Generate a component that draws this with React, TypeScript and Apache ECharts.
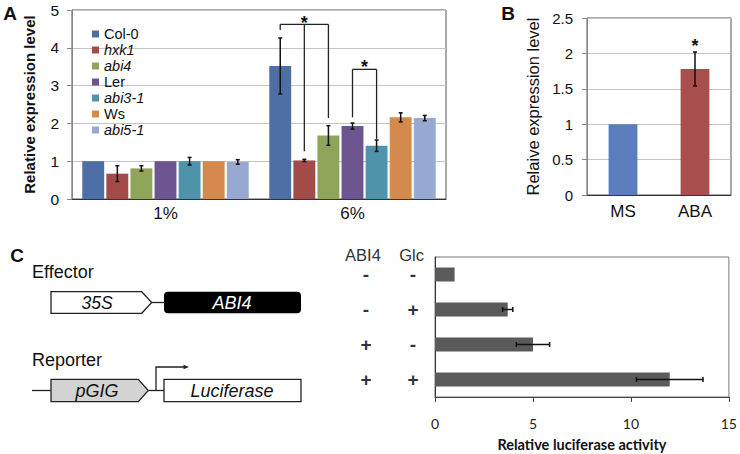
import React, { useEffect, useRef } from "react";
import * as echarts from "echarts";

// ---- Panel A data ----
const strains = ["Col-0", "hxk1", "abi4", "Ler", "abi3-1", "Ws", "abi5-1"];
const italicStrains = ["hxk1", "abi4", "abi3-1", "abi5-1"];
const glucoseLevels = ["1%", "6%"];
const meansLow = [1.0, 0.67, 0.81, 1.0, 1.0, 1.0, 0.98];
const errLow = [0, 0.21, 0.07, 0, 0.1, 0, 0.06];
const meansHigh = [3.52, 1.02, 1.68, 1.93, 1.41, 2.16, 2.14];
const errHigh = [0.74, 0.03, 0.26, 0.08, 0.15, 0.12, 0.07];
const strainColors = ["#4e6ea6", "#a34b48", "#8ea55a", "#6d568f", "#4f93aa", "#d48a4c", "#97a9d1"];
// significance brackets: category index, bracket top, star level, legs [strain index, leg end]
const bracketCats = [1, 1];
const bracketTops = [4.62, 3.43];
const bracketStars = [4.78, 3.62];
const bracketLegs = [
  [[0, 4.47], [1, 1.26], [2, 2.14]],
  [[3, 2.16], [4, 1.59]],
];

// ---- Panel B data ----
const treatments = ["MS", "ABA"];
const treatMeans = [1.0, 1.78];
const treatErr = [0, 0.24];
const treatColors = ["#5a7dbb", "#a84f4d"];
const treatStar = [null, 2.17];

// ---- Panel C data ----
const abi4Signs = ["-", "-", "+", "+"];
const glcSigns = ["-", "+", "-", "+"];
const lucMeans = [1.0, 3.71, 5.0, 11.98];
const lucErr = [0, 0.26, 0.85, 1.7];
const lucTicks = [0, 15, 5];

const BAR_GAP = 0.1;
const CAT_GAP = 0.11;

function barCenter(api: any, cat: number, si: number) {
  const band = api.size([1, 0])[0];
  const n = strains.length;
  const avail = band * (1 - CAT_GAP);
  const bw = avail / (n + (n - 1) * BAR_GAP);
  return api.coord([cat, 0])[0] - avail / 2 + si * bw * (1 + BAR_GAP) + bw / 2;
}

const errorDataA: number[][] = [];
strains.forEach((_, i) => {
  if (errLow[i] > 0) errorDataA.push([0, i, meansLow[i] - errLow[i], meansLow[i] + errLow[i]]);
  if (errHigh[i] > 0) errorDataA.push([1, i, meansHigh[i] - errHigh[i], meansHigh[i] + errHigh[i]]);
});

const ERR_STYLE = { stroke: "#111", lineWidth: 1.5 };

function vErr(x: number, y1: number, y2: number, cap: number) {
  return [
    { type: "line", shape: { x1: x, y1, x2: x, y2 }, style: ERR_STYLE },
    { type: "line", shape: { x1: x - cap, y1, x2: x + cap, y2: y1 }, style: ERR_STYLE },
    { type: "line", shape: { x1: x - cap, y1: y2, x2: x + cap, y2 }, style: ERR_STYLE },
  ];
}

function starText(x: number, y: number) {
  return {
    type: "text",
    x,
    y: y + 5,
    style: {
      text: "*",
      fontSize: 18,
      fontWeight: "bold",
      fontFamily: "Liberation Sans",
      fill: "#111",
      align: "center",
      verticalAlign: "middle",
    },
  };
}

const DIAG = { stroke: "#222", lineWidth: 1.3 };
const diagText = (text: string, x: number, y: number, extra: any = {}) => ({
  type: "text",
  x,
  y,
  style: {
    text,
    fontSize: 18,
    fontFamily: "Liberation Sans",
    fill: "#111",
    align: "center",
    verticalAlign: "middle",
    ...extra,
  },
});

export default function App() {
  const ref = useRef<HTMLDivElement>(null);
  useEffect(() => {
    const chart = echarts.init(ref.current as HTMLDivElement, null, { renderer: "svg" });
    const option: any = {
      animation: false,
      backgroundColor: "#fff",
      textStyle: { fontFamily: "Liberation Sans" },
      grid: [
        { left: 72, top: 10, width: 374, height: 189, show: true, borderColor: "#555", borderWidth: 1 },
        { left: 587, top: 18, width: 144, height: 177, show: true, borderColor: "#555", borderWidth: 1 },
        { left: 435, top: 257, width: 296, height: 140, show: true, borderColor: "#777", borderWidth: 1 },
      ],
      legend: {
        data: strains,
        orient: "vertical",
        left: 87,
        top: 21,
        itemWidth: 7,
        itemHeight: 7,
        itemGap: 0,
        icon: "rect",
        formatter: (name: string) => (italicStrains.includes(name) ? `{i|${name}}` : name),
        textStyle: {
          fontSize: 14.5,
          lineHeight: 16,
          color: "#111",
          fontFamily: "Liberation Sans",
          rich: { i: { fontStyle: "italic", fontSize: 14.5, lineHeight: 16, color: "#111", fontFamily: "Liberation Sans" } },
        },
      },
      xAxis: [
        {
          gridIndex: 0,
          type: "category",
          data: glucoseLevels,
          axisTick: { show: false },
          axisLine: { lineStyle: { color: "#333", width: 1 } },
          axisLabel: { fontSize: 17, color: "#111", margin: 6 },
        },
        {
          gridIndex: 1,
          type: "category",
          data: treatments,
          axisTick: { show: false },
          axisLine: { lineStyle: { color: "#333", width: 1 } },
          axisLabel: { fontSize: 17, color: "#111", margin: 8 },
        },
        {
          gridIndex: 2,
          type: "value",
          min: lucTicks[0],
          max: lucTicks[1],
          interval: lucTicks[2],
          axisLine: { show: true, lineStyle: { color: "#444" } },
          axisTick: { show: true, length: 5, lineStyle: { color: "#444" } },
          splitLine: { show: false },
          axisLabel: { margin: 19, fontFamily: "Lato", fontSize: 14, color: "#222" },
          name: "Relative luciferase activity",
          nameLocation: "middle",
          nameGap: 40,
          nameTextStyle: { fontWeight: "bold", fontFamily: "Lato", fontSize: 14.5, color: "#111" },
        },
      ],
      yAxis: [
        {
          gridIndex: 0,
          type: "value",
          min: 0,
          max: 5,
          interval: 1,
          axisLine: { show: true, lineStyle: { color: "#888" } },
          axisTick: { show: true, length: 5, lineStyle: { color: "#888" } },
          splitLine: { lineStyle: { color: "#c4c4c4" } },
          axisLabel: { fontSize: 15.5, color: "#111", margin: 13 },
          name: "Relative expression level",
          nameLocation: "middle",
          nameGap: 35,
          nameTextStyle: { fontSize: 15, fontWeight: "bold", color: "#111" },
        },
        {
          gridIndex: 1,
          type: "value",
          min: 0,
          max: 2.5,
          interval: 0.5,
          axisLine: { show: true, lineStyle: { color: "#888" } },
          axisTick: { show: true, length: 5, lineStyle: { color: "#888" } },
          splitLine: { lineStyle: { color: "#c4c4c4" } },
          axisLabel: { fontSize: 15, color: "#111", margin: 14 },
          name: "Relaive expression level",
          nameLocation: "middle",
          nameGap: 46,
          nameTextStyle: { fontSize: 16.5, color: "#111" },
        },
        {
          gridIndex: 2,
          type: "category",
          inverse: true,
          data: abi4Signs.map((a, i) => a + glcSigns[i]),
          axisLine: { show: true, lineStyle: { color: "#333" } },
          axisTick: { show: false },
          axisLabel: {
            margin: 7,
            formatter: (_v: string, i: number) => `{a|${abi4Signs[i]}}{s| }{b|${glcSigns[i]}}`,
            rich: {
              a: { width: 30, align: "center", fontSize: 19, fontWeight: "bold", color: "#2b3644" },
              s: { width: 17, fontSize: 10 },
              b: { width: 30, align: "center", fontSize: 19, fontWeight: "bold", color: "#2b3644" },
            },
          },
        },
      ],
      series: [
        ...strains.map((s, i) => ({
          name: s,
          type: "bar",
          xAxisIndex: 0,
          yAxisIndex: 0,
          data: [meansLow[i], meansHigh[i]],
          itemStyle: { color: strainColors[i] },
          barGap: `${BAR_GAP * 100}%`,
          barCategoryGap: `${CAT_GAP * 100}%`,
        })),
        {
          type: "custom",
          name: "errA",
          xAxisIndex: 0,
          yAxisIndex: 0,
          data: errorDataA,
          encode: { x: 0, y: [2, 3] },
          z: 5,
          renderItem: (_p: any, api: any) => {
            const cat = api.value(0);
            const si = api.value(1);
            const x = barCenter(api, cat, si);
            const y1 = api.coord([cat, api.value(2)])[1];
            const y2 = api.coord([cat, api.value(3)])[1];
            return { type: "group", children: vErr(x, y1, y2, 2) };
          },
        },
        {
          type: "custom",
          name: "bracketsA",
          xAxisIndex: 0,
          yAxisIndex: 0,
          data: bracketCats.map((c, i) => [c, bracketTops[i]]),
          encode: { x: 0, y: 1 },
          z: 6,
          renderItem: (p: any, api: any) => {
            const k = p.dataIndex;
            const cat = bracketCats[k];
            const legs = bracketLegs[k];
            const yTop = api.coord([cat, bracketTops[k]])[1];
            const xs = legs.map((l) => barCenter(api, cat, l[0]));
            const children: any[] = [
              { type: "line", shape: { x1: Math.min(...xs), y1: yTop, x2: Math.max(...xs), y2: yTop }, style: { stroke: "#222", lineWidth: 1.3 } },
            ];
            legs.forEach((l, j) => {
              const yEnd = api.coord([cat, l[1]])[1];
              children.push({ type: "line", shape: { x1: xs[j], y1: yTop, x2: xs[j], y2: yEnd }, style: { stroke: "#222", lineWidth: 1.3 } });
            });
            const xMid = legs.length === 3 ? xs[1] : (xs[0] + xs[xs.length - 1]) / 2;
            children.push(starText(xMid, api.coord([cat, bracketStars[k]])[1]));
            return { type: "group", children };
          },
        },
        {
          type: "bar",
          name: "B",
          xAxisIndex: 1,
          yAxisIndex: 1,
          barWidth: "40%",
          data: treatMeans.map((v, i) => ({ value: v, itemStyle: { color: treatColors[i] } })),
        },
        {
          type: "custom",
          name: "errB",
          xAxisIndex: 1,
          yAxisIndex: 1,
          data: treatMeans.map((v, i) => [i, v - treatErr[i], v + treatErr[i]]).filter((_, i) => treatErr[i] > 0),
          encode: { x: 0, y: [1, 2] },
          z: 5,
          renderItem: (_p: any, api: any) => {
            const cat = api.value(0);
            const x = api.coord([cat, 0])[0];
            const y1 = api.coord([cat, api.value(1)])[1];
            const y2 = api.coord([cat, api.value(2)])[1];
            const children: any[] = vErr(x, y1, y2, 2);
            const st = treatStar[cat];
            if (st != null) children.push(starText(x, api.coord([cat, st])[1]));
            return { type: "group", children };
          },
        },
        {
          type: "bar",
          name: "C",
          xAxisIndex: 2,
          yAxisIndex: 2,
          barWidth: "40%",
          itemStyle: { color: "#5a5a5a" },
          data: lucMeans,
        },
        {
          type: "custom",
          name: "errC",
          xAxisIndex: 2,
          yAxisIndex: 2,
          data: lucMeans.map((v, i) => [v - lucErr[i], i, v + lucErr[i]]).filter((_, i) => lucErr[i] > 0),
          encode: { x: [0, 2], y: 1 },
          z: 5,
          renderItem: (_p: any, api: any) => {
            const cat = api.value(1);
            const p1 = api.coord([api.value(0), cat]);
            const p2 = api.coord([api.value(2), cat]);
            const y = p1[1];
            const cap = 2.5;
            return {
              type: "group",
              children: [
                { type: "line", shape: { x1: p1[0], y1: y, x2: p2[0], y2: y }, style: ERR_STYLE },
                { type: "line", shape: { x1: p1[0], y1: y - cap, x2: p1[0], y2: y + cap }, style: ERR_STYLE },
                { type: "line", shape: { x1: p2[0], y1: y - cap, x2: p2[0], y2: y + cap }, style: ERR_STYLE },
              ],
            };
          },
        },
      ],
      graphic: [
        diagText("A", 10, 13, { fontSize: 19, fontWeight: "bold" }),
        diagText("B", 508, 13, { fontSize: 19, fontWeight: "bold" }),
        diagText("C", 17, 255, { fontSize: 19, fontWeight: "bold" }),
        diagText("ABI4", 363, 255, { fontSize: 16.5, fill: "#333" }),
        diagText("Glc", 411.5, 255, { fontSize: 16.5, fill: "#333" }),
        diagText("Effector", 32, 272, { align: "left" }),
        diagText("Reporter", 32, 360, { align: "left" }),
        // effector construct
        {
          type: "polygon",
          shape: { points: [[51, 291.7], [141.7, 291.7], [151.7, 302.5], [141.7, 313.3], [51, 313.3]] },
          style: { fill: "#fff", ...DIAG },
        },
        { type: "line", shape: { x1: 151.7, y1: 302.5, x2: 164, y2: 302.5 }, style: DIAG },
        { type: "rect", shape: { x: 164, y: 291.7, width: 137, height: 21.6, r: 4 }, style: { fill: "#000" } },
        diagText("35S", 97, 302.5, { fontStyle: "italic", fontSize: 17.5 }),
        diagText("ABI4", 232, 302.5, { fontStyle: "italic", fill: "#fff" }),
        // reporter construct
        { type: "line", shape: { x1: 32, y1: 390.5, x2: 51, y2: 390.5 }, style: DIAG },
        {
          type: "polygon",
          shape: { points: [[51, 379.3], [138.3, 379.3], [148.3, 390.5], [138.3, 401.7], [51, 401.7]] },
          style: { fill: "#d3d3d3", ...DIAG },
        },
        { type: "line", shape: { x1: 148.3, y1: 390.5, x2: 164, y2: 390.5 }, style: DIAG },
        { type: "rect", shape: { x: 164, y: 379.3, width: 137, height: 22.4 }, style: { fill: "#fff", ...DIAG } },
        { type: "polyline", shape: { points: [[156, 390.5], [156, 367], [185, 367]] }, style: { fill: "none", ...DIAG } },
        { type: "polygon", shape: { points: [[183.5, 364.8], [189, 367], [183.5, 369.2]] }, style: { fill: "#222" } },
        diagText("pGIG", 97, 390.5, { fontStyle: "italic" }),
        diagText("Luciferase", 232, 390.5, { fontStyle: "italic" }),
      ],
    };
    chart.setOption(option);
    return () => chart.dispose();
  }, []);
  return (
    <div
      ref={ref}
      style={{ position: "absolute", left: 0, top: 0, width: 740, height: 454, background: "#fff" }}
    />
  );
}
